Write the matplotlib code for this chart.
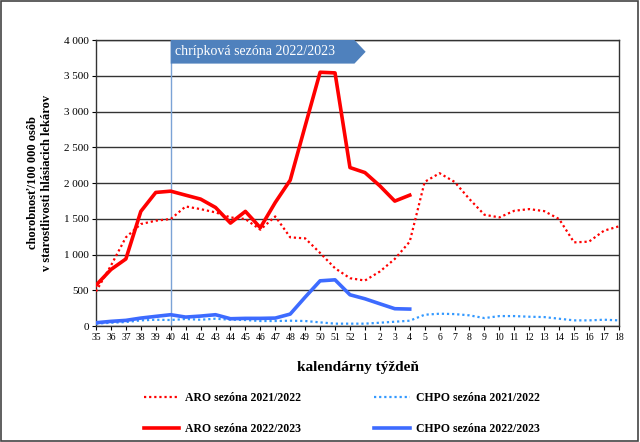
import matplotlib.pyplot as plt
from matplotlib.patches import Polygon, Rectangle

plt.rcParams['font.family'] = ['Liberation Serif', 'DejaVu Serif']

# kalendárne týždne 35..52, 1..18
weeks = [str(w) for w in range(35, 53)] + [str(w) for w in range(1, 19)]

aro_2122 = [483, 845, 1240, 1426, 1473, 1496, 1672, 1635, 1589, 1519, 1496, 1347,
            1533, 1240, 1226, 1022, 808, 669, 636, 762, 938, 1180, 2016, 2137,
            2016, 1775, 1556, 1519, 1612, 1635, 1607, 1496, 1170, 1180, 1333, 1394]
chpo_2122 = [33, 46, 56, 79, 88, 84, 98, 88, 102, 88, 84, 70,
             70, 74, 70, 51, 33, 33, 33, 46, 60, 74, 158, 172,
             167, 149, 111, 139, 139, 130, 125, 102, 79, 79, 88, 79]
aro_2223 = [570, 790, 938, 1603, 1868, 1886, 1830, 1775, 1658, 1440, 1603, 1375,
            1728, 2040, 2797, 3549, 3540, 2216, 2146, 1960, 1747, 1830]
chpo_2223 = [46, 65, 79, 111, 135, 158, 125, 139, 158, 102, 107, 107,
             111, 167, 404, 632, 646, 437, 381, 311, 242, 237]

season_label = 'chrípková sezóna 2022/2023'
season_start = weeks.index('40')

fig = plt.figure(figsize=(6.4, 4.42), dpi=100)
ax = fig.add_axes([0.15, 0.2624, 0.817, 0.6471])

x_all = range(len(weeks))
x_new = range(len(aro_2223))

l1, = ax.plot(x_all, aro_2122, color='#FF0000', lw=1.6, ls=(0, (1, 1.3)), zorder=3)
l2, = ax.plot(x_all, chpo_2122, color='#3399FF', lw=1.6, ls=(0, (1, 1.3)), zorder=3)
l3, = ax.plot(x_new, aro_2223, color='#FF0000', lw=2.6, zorder=4)
l4, = ax.plot(x_new, chpo_2223, color='#3D6BFF', lw=2.6, zorder=4)

ax.set_xlim(0, len(weeks) - 1)
ax.set_ylim(0, 4000)
ax.set_yticks(range(0, 4001, 500))
ax.set_yticklabels(['0' if v == 0 else f'{v:,}'.replace(',', ' ') for v in range(0, 4001, 500)], fontsize=8)
ax.set_xticks(list(x_all))
ax.set_xticklabels(weeks, fontsize=7)
ax.tick_params(axis='both', length=3, width=0.8, pad=2)
ax.grid(axis='y', color='#333333', lw=1.0)
ax.set_axisbelow(True)
for s in ax.spines.values():
    s.set_color('#333333')
    s.set_linewidth(1.0)

ax.set_ylabel('chorobnosť/100 000 osôb\nv starostlivosti hlásiacich lekárov',
              fontsize=9, fontweight='bold', labelpad=8)
ax.set_xlabel('kalendárny týždeň', fontsize=11, fontweight='bold', labelpad=14)

# banner chrípkovej sezóny
ax.axvline(season_start, color='#7BA3D6', lw=1.0, zorder=2)
x0, x1 = season_start, season_start + 12.3
banner = Polygon([(x0, 4000), (x1, 4000), (x1 + 0.75, 3835), (x1, 3670), (x0, 3670)],
                 closed=True, facecolor='#4F81BD', edgecolor='none', zorder=5, clip_on=False)
ax.add_patch(banner)
ax.text(x0 + 0.3, 3835, season_label, color='white', fontsize=10, va='center', ha='left', zorder=6)

# poradie pre dva stĺpce: riadok 1 = 2021/2022, riadok 2 = 2022/2023
fig.legend([l1, l3, l2, l4],
           ['ARO sezóna 2021/2022', 'ARO sezóna 2022/2023',
            'CHPO sezóna 2021/2022', 'CHPO sezóna 2022/2023'],
           loc='lower center', bbox_to_anchor=(0.534, -0.008), ncol=2, frameon=False,
           prop={'weight': 'bold', 'size': 8.5}, handlelength=3.0, columnspacing=6.2,
           labelspacing=1.6, handletextpad=0.5)

fig.add_artist(Rectangle((0.002, 0.003), 0.995, 0.994, transform=fig.transFigure,
                         fill=False, edgecolor='#444444', lw=1.2))

fig.savefig('out.png', dpi=100)
